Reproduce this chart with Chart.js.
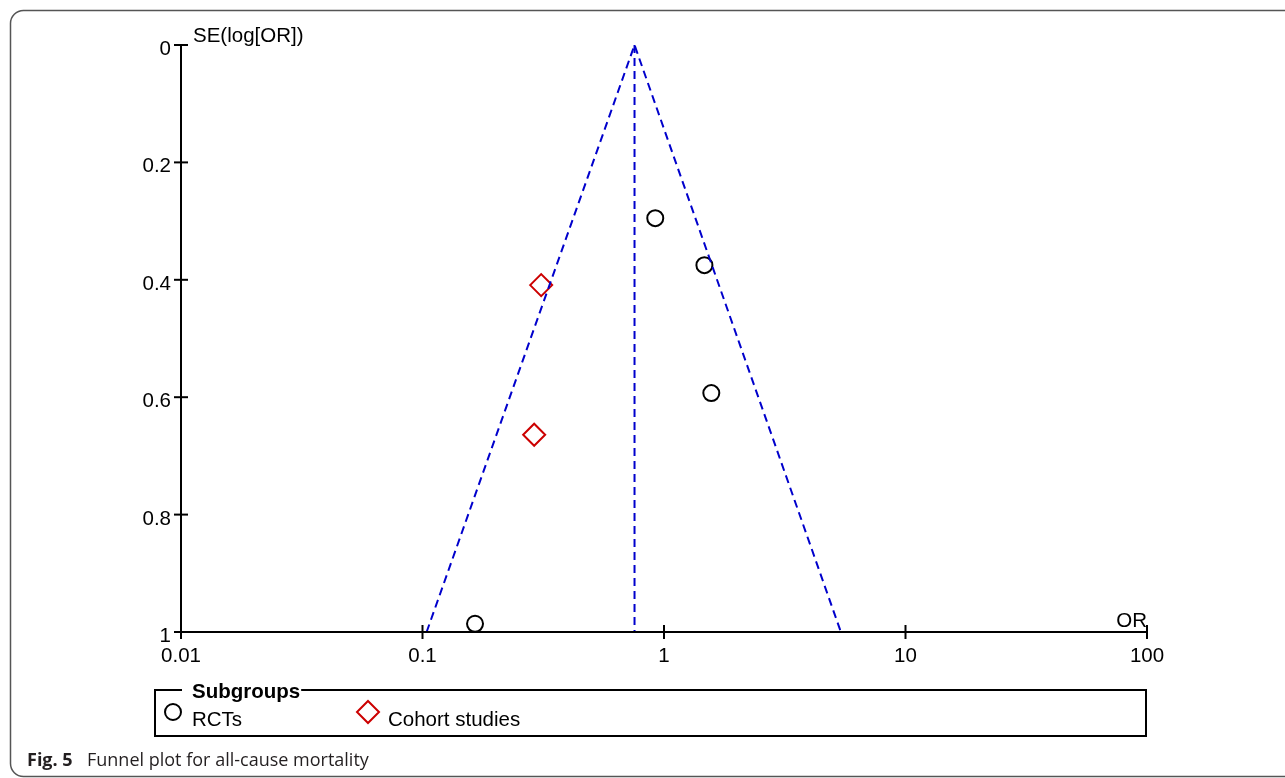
<!DOCTYPE html>
<html>
<head>
<meta charset="utf-8">
<script src="https://cdn.jsdelivr.net/npm/chart.js@4.4.1/dist/chart.umd.min.js"></script>
<style>
  html, body { margin: 0; padding: 0; background: #fff; }
  canvas { display: block; }
</style>
</head>
<body>
<canvas id="funnelChart" width="1285" height="778"></canvas>
<script>
// Data
const rctOR = [0.92, 1.47, 1.57, 0.165];
const rctSE = [0.295, 0.375, 0.593, 0.986];
const cohortOR = [0.31, 0.29];
const cohortSE = [0.409, 0.664];
const pooledOR = 0.755;
const funnelOR = [0.104, 0.755, 5.4];
const funnelSE = [1, 0, 1];

const xTicks = [0.01, 0.1, 1, 10, 100];
const xTickLabels = ["0.01", "0.1", "1", "10", "100"];
const yTicks = [0, 0.2, 0.4, 0.6, 0.8, 1];
const yTickLabels = ["0", "0.2", "0.4", "0.6", "0.8", "1"];

const legendLabels = ["RCTs", "Cohort studies"];

const FONT = '"Liberation Sans", Arial, sans-serif';

// axes, legend, caption and frame
const decorPlugin = {
    id: "decor",
    afterDraw(chart) {
        const ctx = chart.ctx;
        const xs = chart.scales.x;
        const ys = chart.scales.y;
        const x0 = xs.getPixelForValue(xTicks[0]);
        const x1 = xs.getPixelForValue(xTicks[xTicks.length - 1]);
        const yTop = ys.getPixelForValue(0);
        const yBot = ys.getPixelForValue(1);

        ctx.save();
        ctx.strokeStyle = "#000";
        ctx.lineWidth = 2;
        ctx.beginPath();
        ctx.moveTo(x0, yTop);
        ctx.lineTo(x0, yBot);
        ctx.lineTo(x1, yBot);
        ctx.stroke();

        // y ticks
        ctx.fillStyle = "#000";
        ctx.font = "20.5px " + FONT;
        ctx.textAlign = "right";
        ctx.textBaseline = "alphabetic";
        yTicks.forEach((t, i) => {
            const py = ys.getPixelForValue(t);
            ctx.beginPath();
            ctx.moveTo(x0 - 7, py);
            ctx.lineTo(x0 + 7, py);
            ctx.stroke();
            ctx.fillText(yTickLabels[i], x0 - 10, py + 10);
        });

        // x ticks
        ctx.textAlign = "center";
        xTicks.forEach((t, i) => {
            const px = xs.getPixelForValue(t);
            ctx.beginPath();
            ctx.moveTo(px, yBot - 7);
            ctx.lineTo(px, yBot + 7);
            ctx.stroke();
            ctx.fillText(xTickLabels[i], px, yBot + 30);
        });

        // axis titles
        ctx.textAlign = "left";
        ctx.fillText("SE(log[OR])", x0 + 12, yTop - 3);
        ctx.textAlign = "right";
        ctx.fillText("OR", x1, yBot - 5);

        // legend box
        const lx = 155, ly = 690, lw = 991, lh = 46;
        ctx.font = "bold 20.5px " + FONT;
        const title = "Subgroups";
        const tw = ctx.measureText(title).width;
        ctx.beginPath();
        ctx.moveTo(lx + 27, ly);
        ctx.lineTo(lx, ly);
        ctx.lineTo(lx, ly + lh);
        ctx.lineTo(lx + lw, ly + lh);
        ctx.lineTo(lx + lw, ly);
        ctx.lineTo(lx + 37 + tw + 1, ly);
        ctx.stroke();
        ctx.textAlign = "left";
        ctx.fillText(title, lx + 37, ly + 8);

        ctx.font = "20.5px " + FONT;
        // circle
        ctx.beginPath();
        ctx.arc(173, 712, 8, 0, Math.PI * 2);
        ctx.stroke();
        ctx.fillText(legendLabels[0], 192, 726);
        // diamond
        ctx.strokeStyle = "#cc0000";
        ctx.beginPath();
        ctx.moveTo(368, 701);
        ctx.lineTo(379, 712);
        ctx.lineTo(368, 723);
        ctx.lineTo(357, 712);
        ctx.closePath();
        ctx.stroke();
        ctx.fillText(legendLabels[1], 388, 726);

        // caption
        ctx.fillStyle = "#231f20";
        ctx.font = 'bold 18px "Open Sans", sans-serif';
        ctx.fillText("Fig. 5", 27, 766);
        ctx.font = '18px "Open Sans", sans-serif';
        ctx.fillText("Funnel plot for all-cause mortality", 87, 766);

        // outer frame
        ctx.strokeStyle = "#555";
        ctx.lineWidth = 1.5;
        ctx.beginPath();
        ctx.roundRect(10.5, 10.5, 1320, 766, 13);
        ctx.stroke();
        ctx.restore();
    }
};

const ctx = document.getElementById("funnelChart").getContext("2d");

new Chart(ctx, {
    type: "scatter",
    data: {
        datasets: [
            {
                type: "line",
                label: "Funnel",
                data: funnelOR.map((v, i) => ({ x: v, y: funnelSE[i] })),
                borderColor: "#0000cc",
                borderWidth: 2,
                borderDash: [8, 5],
                pointRadius: 0,
                fill: false,
                tension: 0
            },
            {
                type: "line",
                label: "Pooled",
                data: [{ x: pooledOR, y: 0 }, { x: pooledOR, y: 1 }],
                borderColor: "#0000cc",
                borderWidth: 2,
                borderDash: [8, 5],
                pointRadius: 0,
                fill: false
            },
            {
                label: legendLabels[0],
                data: rctOR.map((v, i) => ({ x: v, y: rctSE[i] })),
                pointStyle: "circle",
                pointRadius: 8,
                borderColor: "#000",
                borderWidth: 2,
                backgroundColor: "rgba(0,0,0,0)"
            },
            {
                label: legendLabels[1],
                data: cohortOR.map((v, i) => ({ x: v, y: cohortSE[i] })),
                pointStyle: "rectRot",
                pointRadius: 11,
                borderColor: "#cc0000",
                borderWidth: 2,
                backgroundColor: "rgba(0,0,0,0)"
            }
        ]
    },
    options: {
        responsive: false,
        animation: false,
        clip: false,
        layout: { padding: { left: 181, top: 45, right: 138, bottom: 146 } },
        scales: {
            x: { type: "logarithmic", min: 0.01, max: 100, display: false },
            y: { type: "linear", min: 0, max: 1, reverse: true, display: false }
        },
        plugins: {
            legend: { display: false },
            tooltip: { enabled: false }
        }
    },
    plugins: [decorPlugin]
});
</script>
</body>
</html>
